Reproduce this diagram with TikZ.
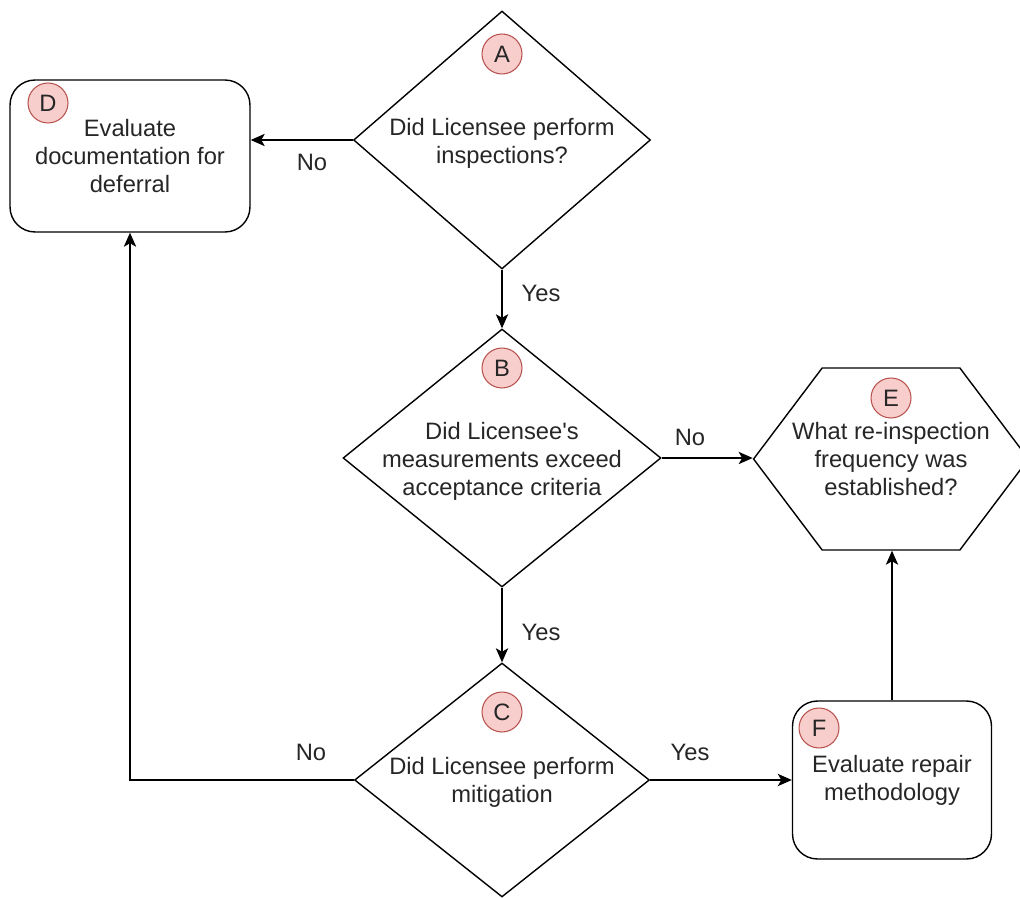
\documentclass[tikz,border=0pt]{standalone}
\usepackage{fontspec}
\setmainfont{Liberation Sans}
\usetikzlibrary{shapes.geometric,shapes.symbols,arrows.meta}
\definecolor{badgefill}{HTML}{F8CECC}
\definecolor{badgeline}{HTML}{B85450}

\begin{document}
\begin{tikzpicture}[x=0.02cm,y=-0.02cm,
  every node/.style={font=\fontsize{13.5}{16}\selectfont, text=black!85},
  decision/.style={diamond, draw, line width=0.8pt, inner sep=0pt},
  process/.style={rectangle, rounded corners=0.5cm, draw, line width=0.8pt, align=center},
  query/.style={signal, signal to=west and east, signal pointer angle=106, draw, line width=0.8pt, align=center, inner ysep=0pt, inner xsep=-0.6cm},
  txt/.style={align=center, inner sep=0pt},
  badge/.style={circle, draw=badgeline, fill=badgefill, line width=0.6pt, minimum size=0.8cm, inner sep=0pt},
  arr/.style={-{Stealth[length=8pt,width=7pt,inset=2pt]}, line width=0.8pt},
  lbl/.style={inner sep=1pt}]
\useasboundingbox (0,0) rectangle (1020,898);

%decisions
\node[decision, minimum width=5.94cm, minimum height=5.16cm] (A) at (502,140) {};
\node[decision, minimum width=6.36cm, minimum height=5.16cm] (B) at (502,458) {};
\node[decision, minimum width=5.9cm, minimum height=4.68cm] (C) at (502,780) {};
\node[txt] (Atext) at (502,143) {Did Licensee perform\\inspections?};
\node[txt] (Btext) at (502,461) {Did Licensee\textquotesingle s\\measurements exceed\\acceptance criteria};
\node[txt] (Ctext) at (502,782) {Did Licensee perform\\mitigation};

%boxes
\node[process, minimum width=4.8cm, minimum height=3.04cm] (D) at (130,156) {Evaluate\\documentation for\\deferral};
\node[process, minimum width=3.98cm, minimum height=3.16cm] (F) at (892,780) {Evaluate repair\\methodology};
\node[query, minimum height=3.64cm] (E) at (891,459) {What re-inspection\\frequency was\\established?};

%badges
\foreach \l/\x/\y in {A/502/54, B/502/368, C/502/712, D/48/103, E/891/398, F/819/728}{
\node[badge] (badge\l) at (\x,\y) {\l};
}

%connectors
\draw[arr] (A.west) -- (A.west -| D.east);
\draw[arr] (A) -- (B);
\draw[arr] (B.east) -- (B.east -| E.west);
\draw[arr] (B) -- (C);
\draw[arr] (C.west) -| (D.south);
\draw[arr] (C.east) -- (C.east -| F.west);
\draw[arr] (F.north) -- (F.north |- E.south);

%labels
\node[lbl] (noA) at (312,162) {No};
\node[lbl] (yesA) at (541,293) {Yes};
\node[lbl] (noB) at (690,437) {No};
\node[lbl] (yesB) at (541,632) {Yes};
\node[lbl] (noC) at (311,752) {No};
\node[lbl] (yesC) at (690,752) {Yes};
\end{tikzpicture}
\end{document}
